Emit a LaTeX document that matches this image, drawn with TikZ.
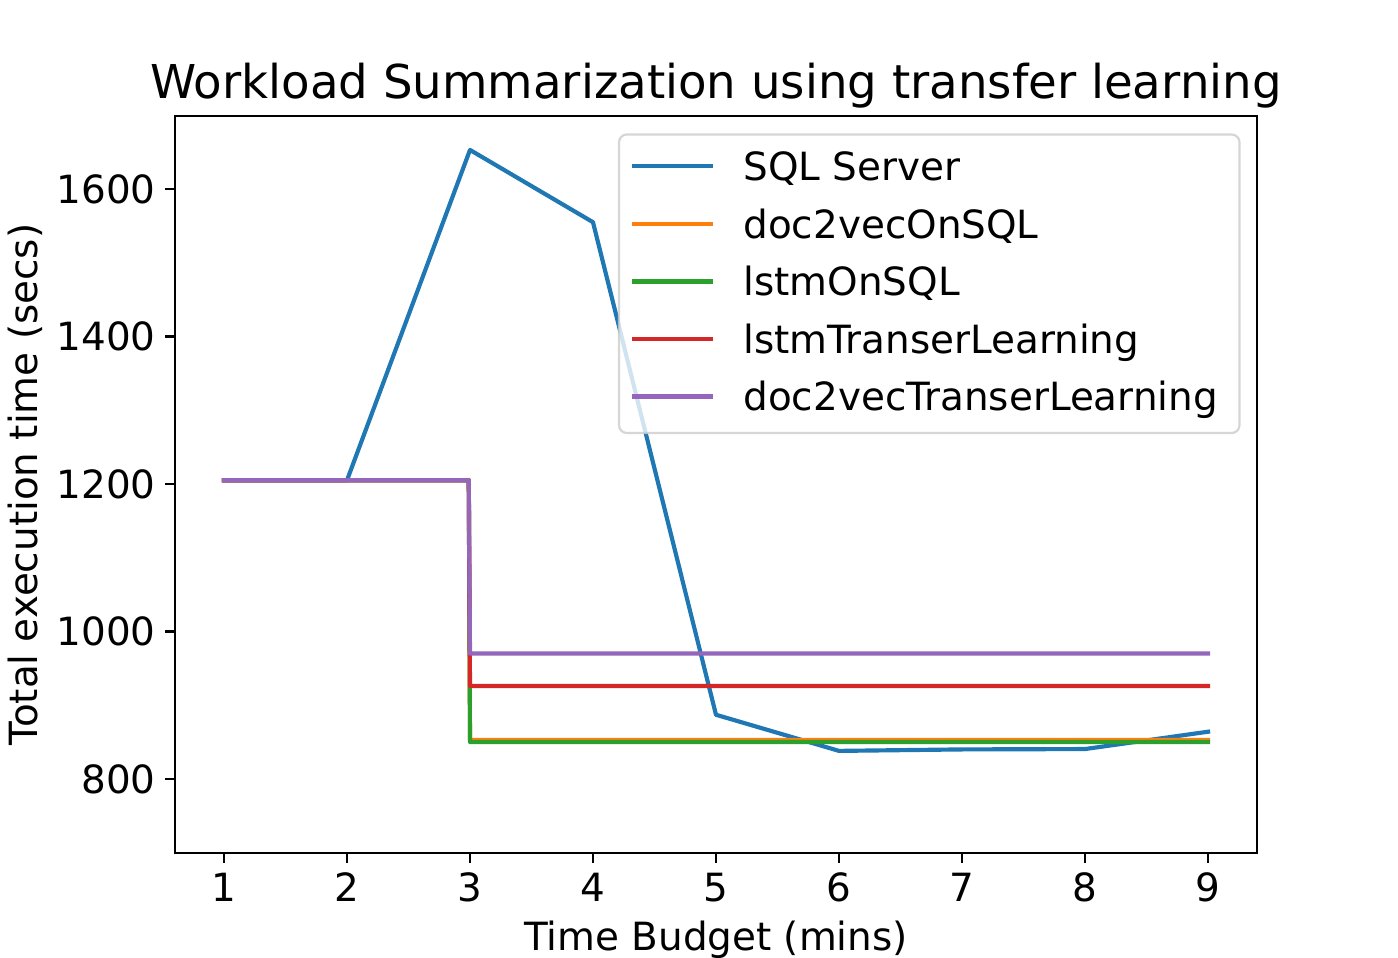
\documentclass[tikz,border=0pt]{standalone}
\usepackage{fontspec}
\setmainfont{DejaVu Sans}
\definecolor{tabblue}{HTML}{1F77B4}
\definecolor{taborange}{HTML}{FF7F0E}
\definecolor{tabgreen}{HTML}{2CA02C}
\definecolor{tabred}{HTML}{D62728}
\definecolor{tabpurple}{HTML}{9467BD}
\definecolor{legedge}{HTML}{CCCCCC}
\tikzset{
  every node/.style={inner sep=0pt, outer sep=0pt},
  lbl/.style={font=\fontsize{19.44pt}{23pt}\selectfont},
  ttl/.style={font=\fontsize{23.33pt}{28pt}\selectfont},
  spine/.style={line width=1.11pt, black},
  tickmark/.style={line width=1.11pt, black},
  series/.style={line width=2.08pt, line cap=rect, line join=round},
  legframe/.style={draw=legedge, line width=1.11pt, fill=white, fill opacity=0.8, draw opacity=0.8, rounded corners=3.9pt},
}
\begin{document}
\begin{tikzpicture}[x=0.5pt, y=-0.5pt]
\useasboundingbox (0,0) rectangle (1398,958);

% data lines in data coordinates
\begin{scope}[shift={(101,1368.8)}, x={(61.5pt,0pt)}, y={(0pt,0.36869pt)}]
  \draw[series, tabblue] (1,1205) -- (2,1205) -- (3,1653) -- (4,1555) -- (5,887) -- (6,838) -- (7,840) -- (8,840.5) -- (9,864);
  \draw[series, taborange] (1,1205) -- (2,1205) -- (2.99,1205) -- (3,853) -- (9,853);
  \draw[series, tabgreen] (1,1205) -- (2,1205) -- (2.99,1205) -- (3,850) -- (9,850);
  \draw[series, tabred] (1,1205) -- (2,1205) -- (2.99,1205) -- (3,926) -- (9,926);
  \draw[series, tabpurple] (1,1205) -- (2,1205) -- (2.99,1205) -- (3,970) -- (9,970);
\end{scope}

% axes frame
\draw[spine] (175,116) rectangle (1257,853);

% x ticks
\foreach \i in {1,...,9} {
  \pgfmathsetmacro{\px}{224+123*(\i-1)}
  \draw[tickmark] (\px,853) -- (\px,862.7);
  \node[lbl, anchor=base] (xt\i) at (\px,901.5) {\i};
}
% y ticks
\foreach \v in {800,1000,1200,1400,1600} {
  \pgfmathsetmacro{\py}{778.9-(\v-800)*0.73738}
  \draw[tickmark] (175,\py) -- (165.3,\py);
  \node[lbl, anchor=east] (yt\v) at (155.6,\py) {\v};
}

% labels
\node[ttl, anchor=base] (title) at (716,98) {Workload Summarization using transfer learning};
\node[lbl, anchor=base] (xlabel) at (716,950) {Time Budget (mins)};
\node[lbl, anchor=base, rotate=90] (ylabel) at (37,484.5) {Total execution time (secs)};

% legend
\path[legframe] (619,134.5) rectangle (1239.5,433);
\draw[series, line cap=butt, tabblue]   (632,166)   -- (713,166);
\draw[series, line cap=butt, taborange] (632,224)   -- (713,224);
\draw[series, line cap=butt, tabgreen]  (632,281.5) -- (713,281.5);
\draw[series, line cap=butt, tabred]    (632,339)   -- (713,339);
\draw[series, line cap=butt, tabpurple] (632,396.5) -- (713,396.5);
\node[lbl, anchor=base west] (l1) at (743.5,180.2) {SQL Server};
\node[lbl, anchor=base west] (l2) at (743.5,238.2) {doc2vecOnSQL};
\node[lbl, anchor=base west] (l3) at (743.5,295.7) {lstmOnSQL};
\node[lbl, anchor=base west] (l4) at (743.5,353.2) {lstmTranserLearning};
\node[lbl, anchor=base west] (l5) at (743.5,410.7) {doc2vecTranserLearning};
\end{tikzpicture}
\end{document}
